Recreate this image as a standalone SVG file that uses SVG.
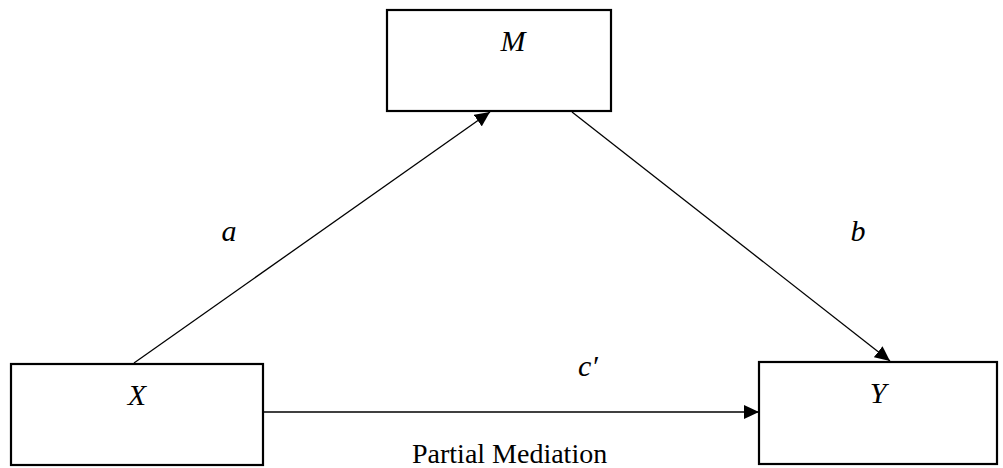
<svg xmlns="http://www.w3.org/2000/svg" width="1003" height="468" viewBox="0 0 1003 468">
<style>
.box{fill:#fff;stroke:#000;stroke-width:2.2}
.edge{stroke:#000;stroke-width:1.3;fill:none}
.math{font-family:"Liberation Serif","Times New Roman",serif;font-style:italic;font-size:30px;fill:#000;text-anchor:middle}
.cap{font-family:"Liberation Serif","Times New Roman",serif;font-size:28px;fill:#000}
</style>
<defs>
<marker id="arr" markerUnits="userSpaceOnUse" markerWidth="16" markerHeight="14" refX="15" refY="7" orient="auto">
<path d="M0,0 L15,7 L0,14 Z" fill="#000"/>
</marker>
</defs>
<rect width="1003" height="468" fill="#fff"/>
<g id="node-M"><rect class="box" x="387" y="10" width="224" height="101"/><text class="math" x="513" y="51">M</text></g>
<g id="node-X"><rect class="box" x="11" y="364" width="252" height="101"/><text class="math" x="137" y="405">X</text></g>
<g id="node-Y"><rect class="box" x="759" y="362" width="238" height="102"/><text class="math" x="878" y="403">Y</text></g>
<g id="connectors">
<line class="edge" x1="134" y1="363" x2="490" y2="112" marker-end="url(#arr)"/>
<line class="edge" x1="572" y1="112" x2="890" y2="361" marker-end="url(#arr)"/>
<line class="edge" x1="263" y1="412" x2="759" y2="412" marker-end="url(#arr)"/>
</g>
<text class="math" x="229" y="241">a</text>
<text class="math" x="858" y="241">b</text>
<text class="math" x="588" y="376">c′</text>
<text class="cap" x="412" y="463">Partial Mediation</text>
</svg>
